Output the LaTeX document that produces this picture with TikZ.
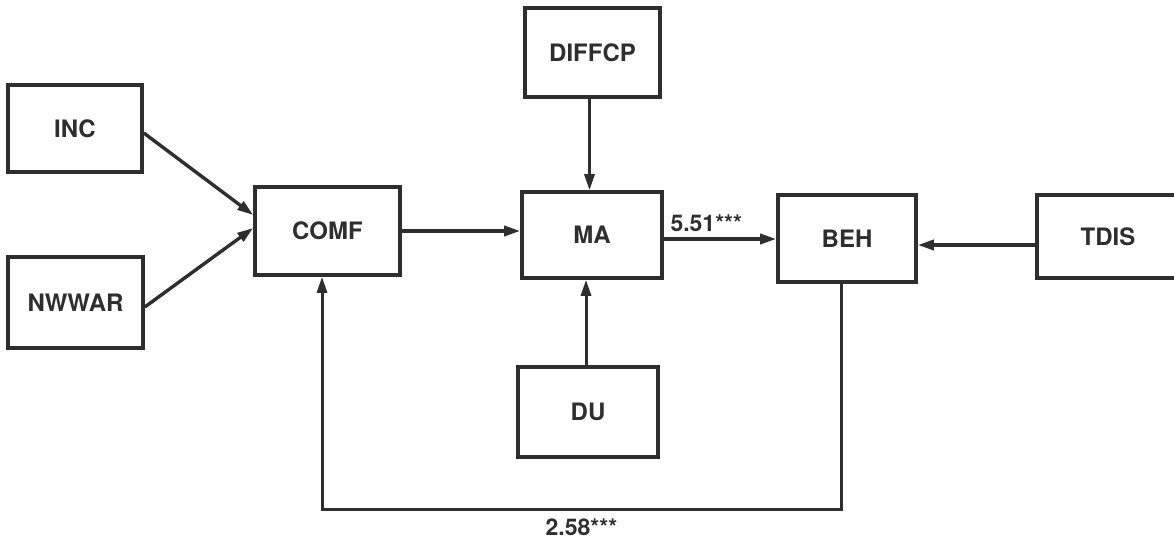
\documentclass[tikz,border=0pt]{standalone}
\usepackage{fontspec}
\setmainfont{TeX Gyre Heros}
\usetikzlibrary{arrows.meta}
\definecolor{ink}{gray}{0.18}
\tikzset{
  box/.style={draw=ink, line width=3.6pt, inner sep=0pt, text=ink,
    font=\fontsize{24}{28}\selectfont\bfseries},
  arr/.style={draw=ink, line width=3.4pt, -{Triangle[length=16pt,width=10pt]}},
  lab/.style={text=ink, font=\fontsize{23}{27}\selectfont\bfseries, inner sep=0pt}
}
\begin{document}
\begin{tikzpicture}[x=1pt,y=-1pt]
\useasboundingbox (0,0) rectangle (1174,544);
\node[box, minimum width=134pt, minimum height=87pt] (INC) at (75,128.5) {INC};
\node[box, minimum width=135pt, minimum height=91pt] (NWWAR) at (75.5,302.5) {NWWAR};
\node[box, minimum width=145pt, minimum height=88pt] (COMF) at (327.5,231) {COMF};
\node[box, minimum width=135pt, minimum height=89pt] (DIFFCP) at (592.5,52.5) {DIFFCP};
\node[box, minimum width=140pt, minimum height=86pt] (MA) at (592,235) {MA};
\node[box, minimum width=140pt, minimum height=90pt] (DU) at (588,412) {DU};
\node[box, minimum width=138pt, minimum height=87pt] (BEH) at (847,238.5) {BEH};
\node[box, minimum width=142pt, minimum height=83pt] (TDIS) at (1108,236.5) {TDIS};

\coordinate (fbR) at (841,509);
\coordinate (fbL) at (322,509);

\draw[arr] ([yshift=-4.5pt]INC.east) -- ([yshift=16pt]COMF.west);
\draw[arr] ([yshift=-4.5pt]NWWAR.east) -- ([yshift=3pt]COMF.west);
\draw[arr] (COMF.east) -- (COMF.east -| MA.west);
\draw[arr, line width=3pt] ([xshift=-3pt]DIFFCP.south) -- ([xshift=-3pt]DIFFCP.south |- MA.north);
\draw[arr, line width=3pt] ([xshift=-2pt]DU.north) -- ([xshift=-2pt]DU.north |- MA.south);
\draw[arr] ([yshift=-4pt]MA.east) -- ([yshift=-4pt]MA.east -| BEH.west)
  node[lab, pos=0, anchor=south west, xshift=5pt, yshift=6pt] (l1) {5.51***};
\draw[arr] ([yshift=-8.5pt]TDIS.west) -- ([yshift=-8.5pt]TDIS.west -| BEH.east);
\draw[arr, line width=3pt] (BEH.south -| fbR) -- (fbR) -- (fbL)
  node[lab, midway, below=8pt] (l2) {2.58***} -- (COMF.south -| fbL);
\end{tikzpicture}
\end{document}
